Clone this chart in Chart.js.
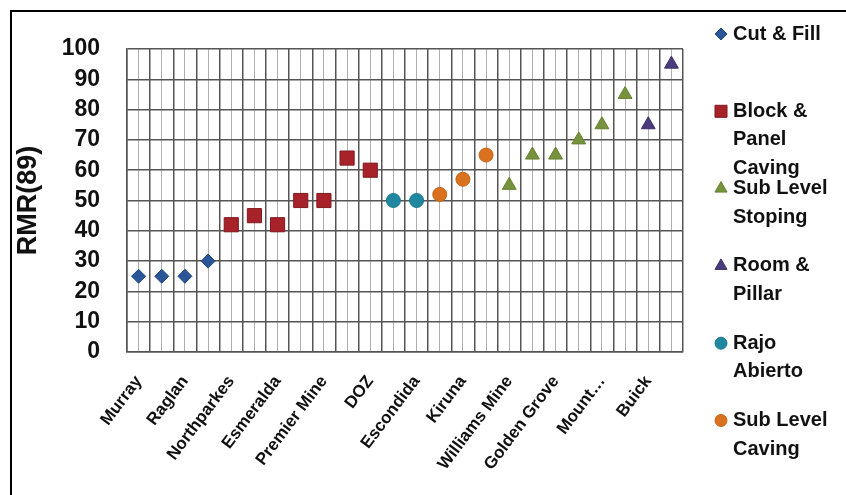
<!DOCTYPE html>
<html><head><meta charset="utf-8">
<script src="https://cdn.jsdelivr.net/npm/chart.js@4/dist/chart.umd.min.js"></script>
<style>html,body{margin:0;padding:0;background:#fff}#wrap{width:846px;height:495px;position:relative}</style>
</head><body><div id="wrap"><canvas id="c" width="846" height="495"></canvas></div>
<script>
// ---- data ----
const mines = ['Murray','','Raglan','','Northparkes','','Esmeralda','','Premier Mine','','DOZ','','Escondida','','Kiruna','','Williams Mine','','Golden Grove','','Mount\u2026','','Buick',''];
const seriesNames = ['Cut & Fill','Block & Panel Caving','Sub Level Stoping','Room & Pillar','Rajo Abierto','Sub Level Caving'];
const cutFill    = [25,25,25,30,null,null,null,null,null,null,null,null,null,null,null,null,null,null,null,null,null,null,null,null];
const blockPanel = [null,null,null,null,42,45,42,50,50,64,60,null,null,null,null,null,null,null,null,null,null,null,null,null];
const subLevelStoping = [null,null,null,null,null,null,null,null,null,null,null,null,null,null,null,null,55,65,65,70,75,85,null,null];
const roomPillar = [null,null,null,null,null,null,null,null,null,null,null,null,null,null,null,null,null,null,null,null,null,null,75,95];
const rajoAbierto = [null,null,null,null,null,null,null,null,null,null,null,50,50,null,null,null,null,null,null,null,null,null,null,null];
const subLevelCaving = [null,null,null,null,null,null,null,null,null,null,null,null,null,52,57,65,null,null,null,null,null,null,null,null];
const yTicks = [0,10,20,30,40,50,60,70,80,90,100];

// ---- styles ----
const styles = [
  {data: cutFill, style:'rectRot', r:7, color:'#2a5596', border:'#1f467f', lr:6},
  {data: blockPanel, style:'rect', r:10, color:'#a8222a', border:'#7f1a1f', lr:8.5},
  {data: subLevelStoping, style:'triangle', r:8, color:'#76923c', border:'#66812f', lr:7},
  {data: roomPillar, style:'triangle', r:8, color:'#4b3a7c', border:'#3d2f68', lr:7},
  {data: rajoAbierto, style:'circle', r:7, color:'#1f88a0', border:'#1b7a90', lr:6},
  {data: subLevelCaving, style:'circle', r:7, color:'#d9711f', border:'#c5641a', lr:6}
];

const datasets = styles.map((s,i)=>({
  label: seriesNames[i], data: s.data, showLine:false,
  pointStyle: s.style, pointRadius: s.r, pointHoverRadius: s.r,
  backgroundColor: s.color, borderColor: s.border, pointBorderWidth: 1, xAxisID:'x'
}));

const frame = {
  id:'frame',
  afterDraw(chart){
    const ctx = chart.ctx;
    ctx.save();
    ctx.strokeStyle = '#000'; ctx.lineWidth = 2;
    ctx.beginPath(); ctx.moveTo(11, 495); ctx.lineTo(11, 11); ctx.lineTo(846, 11); ctx.stroke();
    ctx.restore();
  }
};

const sideLegend = {
  id:'sideLegend',
  afterDraw(chart){
    const ctx = chart.ctx;
    ctx.save();
    ctx.font = 'bold 20px "Liberation Sans", Arial, sans-serif';
    ctx.textBaseline = 'middle'; ctx.textAlign = 'left'; ctx.fillStyle = '#111';
    const maxW = 104;
    styles.forEach((s,i)=>{
      const y0 = 34 + i*77.3;
      ctx.fillStyle = s.color; ctx.strokeStyle = s.border; ctx.lineWidth = 1;
      Chart.helpers.drawPoint(ctx, {pointStyle:s.style, radius:s.lr, rotation:0, borderWidth:1}, 721, y0);
      const words = seriesNames[i].split(' ');
      const lines = []; let cur = '';
      words.forEach(w=>{
        const t = cur ? cur + ' ' + w : w;
        if (ctx.measureText(t).width > maxW && cur) { lines.push(cur); cur = w; } else cur = t;
      });
      if (cur) lines.push(cur);
      ctx.fillStyle = '#111';
      lines.forEach((ln,k)=> ctx.fillText(ln, 733, y0 + k*28.5));
    });
    ctx.restore();
  }
};

new Chart(document.getElementById('c'), {
  type:'line',
  data:{ labels: mines, datasets },
  options:{
    responsive:false, animation:false,
    layout:{ padding:{ left:12, right:163, top:49, bottom:0 } },
    plugins:{ legend:{display:false}, tooltip:{enabled:false} },
    scales:{
      x:{
        type:'category', offset:true, position:'bottom',
        grid:{ offset:true, color:'#555', lineWidth:1.5, drawTicks:false },
        border:{ display:true, color:'#555', width:1.5 },
        ticks:{ autoSkip:false, minRotation:53, maxRotation:53, padding:20,
          color:'#111', font:{ family:'"Liberation Sans", Arial, sans-serif', weight:'bold', size:17 } },
        afterFit(s){ s.height = 143; }
      },
      xMinor:{
        type:'category', offset:true, position:'bottom', labels: mines,
        grid:{ offset:false, color:'#b0b0b0', lineWidth:1, drawTicks:false },
        border:{ display:false },
        ticks:{ display:false },
        afterFit(s){ s.height = 0; }
      },
      y:{
        min:0, max:100,
        afterBuildTicks(s){ s.ticks = yTicks.map(v=>({value:v})); },
        grid:{ color:'#555', lineWidth:1.5, drawTicks:false },
        border:{ display:true, color:'#555', width:1.5 },
        ticks:{ autoSkip:false, padding:27, color:'#111', font:{ family:'"Liberation Sans", Arial, sans-serif', weight:'bold', size:23 } },
        title:{ display:true, text:'RMR(89)', color:'#111', padding:0,
          font:{ family:'"Liberation Sans", Arial, sans-serif', weight:'bold', size:27 } },
        afterFit(s){ s.width = 115; }
      }
    }
  },
  plugins:[frame, sideLegend]
});
</script>
</body></html>
